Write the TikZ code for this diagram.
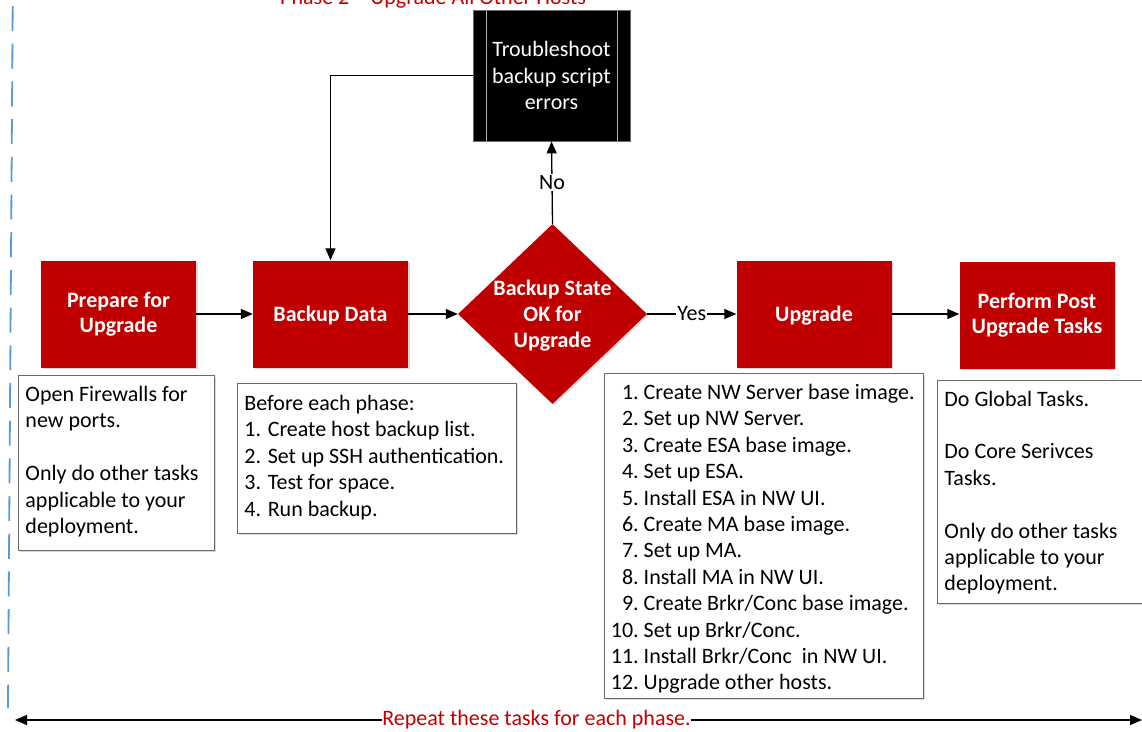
\documentclass[tikz,border=0pt]{standalone}
\usepackage{fontspec}
\setmainfont{Carlito}
\usetikzlibrary{arrows.meta,shapes.geometric,shadows}
\definecolor{boxred}{RGB}{192,0,0}
\definecolor{dashblue}{RGB}{91,155,213}
\definecolor{edgegray}{RGB}{105,105,105}
\newcommand\tbox[5]{\hspace*{#3}\parbox[c][#2][t]{\dimexpr#1-#3\relax}{\raggedright\rule{0pt}{#4}#5}}
\newcommand\itm[1]{\makebox[27.8pt][r]{#1.}\ }
\begin{document}
\begin{tikzpicture}[x=1pt,y=-1pt,
  every node/.style={font=\fontsize{22}{26.4}\selectfont},
  softshadow/.style={drop shadow={shadow xshift=1.5pt,shadow yshift=-1.5pt,fill=black,opacity=0.15}},
  redbox/.style={rectangle,fill=boxred,minimum width=155pt,minimum height=107pt,inner sep=0pt,
    text=white,align=center,font=\bfseries\fontsize{22}{25.5}\selectfont,softshadow},
  decision/.style={diamond,fill=boxred,minimum width=189pt,minimum height=180pt,inner sep=0pt,softshadow},
  notebox/.style={rectangle,draw=edgegray,line width=0.9pt,fill=white,inner sep=0pt,anchor=north west,softshadow},
  procbox/.style={rectangle,fill=black,draw=edgegray,line width=0.8pt,minimum width=157pt,minimum height=131pt,
    inner sep=0pt,text=white,align=center,
    path picture={\draw[gray!60,line width=0.9pt]
      ([xshift=13pt]path picture bounding box.north west) -- ([xshift=13pt]path picture bounding box.south west)
      ([xshift=-13pt]path picture bounding box.north east) -- ([xshift=-13pt]path picture bounding box.south east);}},
  arr/.style={draw=black,line width=1.3pt,-{Triangle[length=12pt,width=10pt]}},
  lbl/.style={fill=white,inner sep=1pt,text=black},
  redtext/.style={text=boxred}
]
\useasboundingbox (0,0) rectangle (1142,731);
\clip (0,0) rectangle (1142,731);

% phase title (cut at top)
\node[redtext,anchor=base west,inner sep=0pt] (title) at (280,4) {Phase 2 – Upgrade All Other Hosts};

% dashed blue separator
\coordinate (dtop) at (12.7,6);
\coordinate (dbot) at (8,708);
\draw[dashblue,line width=1.8pt,dash pattern=on 25pt off 12.7pt] (dtop) -- (dbot);

% main process
\node[redbox] (prep) at (118.5,314) {Prepare for\\Upgrade};
\node[redbox,text depth=0pt] (backup) at (330.5,314) {Backup Data};
\node[decision] (dec) at (552.5,314)
  {};
\node[text=white,align=center,text depth=0pt,font=\bfseries\fontsize{22}{26}\selectfont] (dectext) at (dec.center) {Backup State\\OK for\\Upgrade};
\node[redbox,text depth=0pt] (upg) at (814,314) {Upgrade};
\node[redbox] (post) at (1037,315) {Perform Post\\Upgrade Tasks};
\node[procbox] (trouble) at (551.5,75.5) {Troubleshoot\\backup script\\errors};

% connectors
\draw[arr] (prep) -- (backup);
\draw[arr] (backup) -- (dec);
\draw[arr] (dec) -- node[lbl] (yes) {Yes} (upg);
\draw[arr] (upg.east) -- (upg.east -| post.west);
\draw[arr] (dec.north) -- node[lbl] (no) {No} (trouble.south);
\draw[arr] (trouble.west) -| (backup.north);

% note boxes
\node[notebox] (n1) at (18,375) {\tbox{196pt}{175pt}{7pt}{26pt}{Open Firewalls for\\new ports.\\[26.4pt]Only do other tasks\\applicable to your\\deployment.}};
\node[notebox] (n2) at (237,383) {\tbox{279pt}{150pt}{7pt}{27pt}{Before each phase:\\1. Create host backup list.\\2. Set up SSH authentication.\\3. Test for space.\\4. Run backup.}};
\node[notebox] (n3) at (604,373) {\tbox{319pt}{325pt}{6.5pt}{26pt}{%
\itm{1}Create NW Server base image.\\
\itm{2}Set up NW Server.\\
\itm{3}Create ESA base image.\\
\itm{4}Set up ESA.\\
\itm{5}Install ESA in NW UI.\\
\itm{6}Create MA base image.\\
\itm{7}Set up MA.\\
\itm{8}Install MA in NW UI.\\
\itm{9}Create Brkr/Conc base image.\\
\itm{10}Set up Brkr/Conc.\\
\itm{11}Install Brkr/Conc\ \ in NW UI.\\
\itm{12}Upgrade other hosts.}};
\node[notebox] (n4) at (937,380) {\tbox{215pt}{223pt}{7pt}{25.7pt}{Do Global Tasks.\\[26.4pt]Do Core Serivces\\Tasks.\\[26.4pt]Only do other tasks\\applicable to your\\deployment.}};

% repeat arrow
\node[redtext,inner sep=0pt] (rep) at (536.5,720) {Repeat these tasks for each phase.};
\coordinate (rl) at (15,720);
\coordinate (rr) at (1142,720);
\draw[arr] (rep.west) -- (rl);
\draw[arr] (rep.east) -- (rr);
\end{tikzpicture}
\end{document}
